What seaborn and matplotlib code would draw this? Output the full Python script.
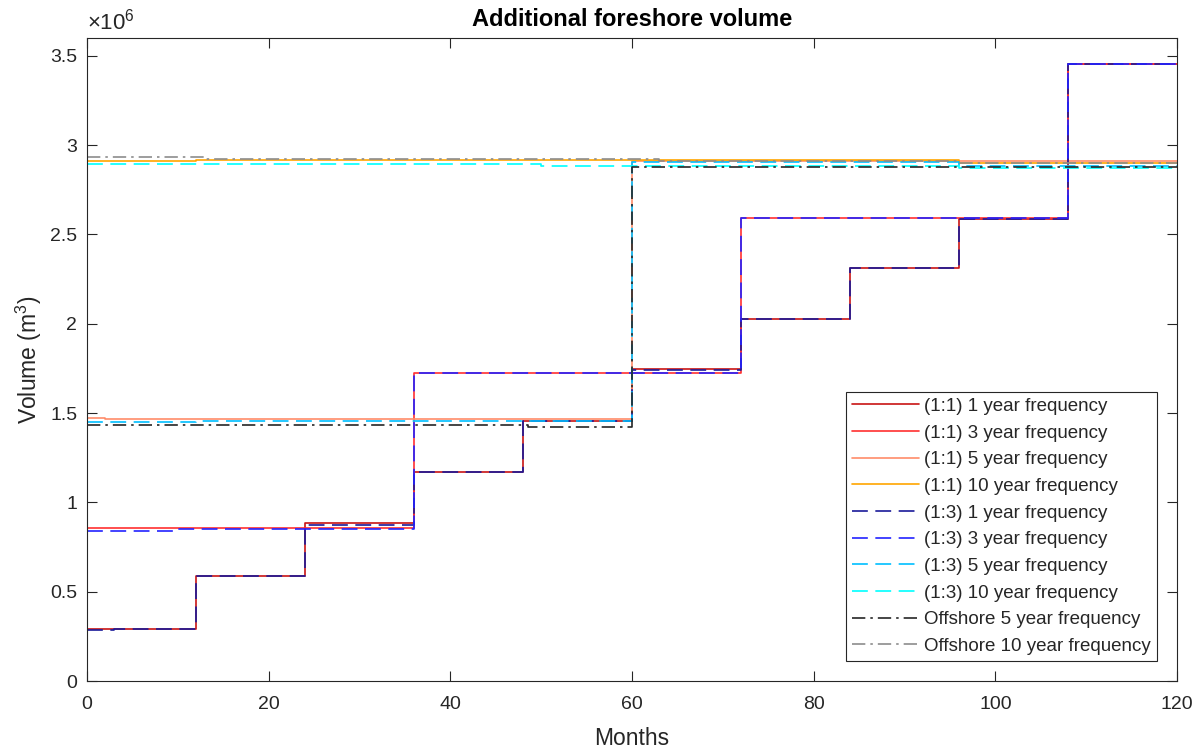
import numpy as np
import pandas as pd
import matplotlib
matplotlib.use("Agg")
import matplotlib.pyplot as plt
import seaborn as sns
from matplotlib.ticker import FuncFormatter, MultipleLocator

sns.set_theme(style="white")
plt.rcParams['font.family'] = ['Liberation Sans', 'DejaVu Sans']
plt.rcParams['mathtext.fontset'] = 'custom'
plt.rcParams['mathtext.rm'] = 'Liberation Sans'

# ---- data (volume in millions of m^3, step breakpoints in months) ----
s11_1_x = [0, 12, 24, 36, 48, 60, 72, 84, 96, 108, 120]
s11_1_y = [0.293, 0.590, 0.886, 1.172, 1.458, 1.746, 2.027, 2.313, 2.588, 3.455, 3.455]
s11_3_x = [0, 36, 72, 108, 120]
s11_3_y = [0.857, 1.723, 2.591, 3.455, 3.455]
s11_5_x = [0, 2, 60, 120]
s11_5_y = [1.472, 1.465, 2.912, 2.912]
s11_10_x = [0, 12, 96, 120]
s11_10_y = [2.912, 2.918, 2.902, 2.902]
s13_1_x = [0, 3, 12, 24, 36, 48, 60, 72, 84, 96, 108, 120]
s13_1_y = [0.285, 0.293, 0.590, 0.875, 1.172, 1.457, 1.743, 2.027, 2.313, 2.587, 3.455, 3.455]
s13_3_x = [0, 10, 36, 72, 108, 120]
s13_3_y = [0.838, 0.851, 1.723, 2.591, 3.455, 3.455]
s13_5_x = [0, 12, 60, 96, 120]
s13_5_y = [1.450, 1.457, 2.904, 2.885, 2.885]
s13_10_x = [0, 50, 96, 120]
s13_10_y = [2.894, 2.885, 2.872, 2.872]
off5_x = [0, 48.5, 60, 96, 120]
off5_y = [1.432, 1.420, 2.880, 2.875, 2.875]
off10_x = [0, 13, 63, 96, 120]
off10_y = [2.936, 2.925, 2.912, 2.900, 2.900]

labels = ["(1:1) 1 year frequency", "(1:1) 3 year frequency", "(1:1) 5 year frequency",
          "(1:1) 10 year frequency", "(1:3) 1 year frequency", "(1:3) 3 year frequency",
          "(1:3) 5 year frequency", "(1:3) 10 year frequency",
          "Offshore 5 year frequency", "Offshore 10 year frequency"]
series = [(s11_1_x, s11_1_y), (s11_3_x, s11_3_y), (s11_5_x, s11_5_y), (s11_10_x, s11_10_y),
          (s13_1_x, s13_1_y), (s13_3_x, s13_3_y), (s13_5_x, s13_5_y), (s13_10_x, s13_10_y),
          (off5_x, off5_y), (off10_x, off10_y)]

colors = ['#C81414', '#FF3030', '#FF8C69', '#FFA500',
          '#1A1A99', '#2222FF', '#00BFFF', '#00FFFF',
          '#262626', '#8C8C8C']
dash = (0, (9.5, 4.5))
dashdot = (0, (8, 3, 1.5, 3))
styles = ['-', '-', '-', '-', dash, dash, dash, dash, dashdot, dashdot]

fig = plt.figure(figsize=(12.01, 7.48), dpi=100)
ax = fig.add_axes([87/1201, 1 - 681/748, 1090/1201, 643/748])

for (xs, ys), lab, c, ls in zip(series, labels, colors, styles):
    df = pd.DataFrame({"Months": xs, "Volume": np.array(ys) * 1e6})
    sns.lineplot(data=df, x="Months", y="Volume", ax=ax, color=c, linestyle=ls,
                 linewidth=1.2, drawstyle='steps-post', label=lab, sort=False,
                 estimator=None)

ax.set_xlim(0, 120)
ax.set_ylim(0, 3.6e6)
ax.xaxis.set_major_locator(MultipleLocator(20))
ax.yaxis.set_major_locator(MultipleLocator(0.5e6))
ax.yaxis.set_major_formatter(FuncFormatter(lambda v, p: f"{v/1e6:g}"))

txtc = '#262626'
for sp in ax.spines.values():
    sp.set_visible(True)
    sp.set_color(txtc)
    sp.set_linewidth(0.8)
ax.tick_params(direction='in', length=7.5, width=0.8, colors=txtc, labelsize=14,
               top=True, right=True, bottom=True, left=True)
ax.tick_params(axis='x', pad=11)
ax.tick_params(axis='y', pad=7)

ax.set_xlabel("Months", fontsize=16.5, color=txtc)
ax.set_ylabel(r"Volume (m$^{\mathregular{3}}$)", fontsize=16.5, color=txtc)
ax.xaxis.set_label_coords(0.5, -0.071)
ax.yaxis.set_label_coords(-0.039, 0.5)
ax.set_title("Additional foreshore volume", fontsize=17, fontweight='bold',
             color='black', pad=9)
ax.text(0.0, 1.006, r"$\times\mathregular{10^{6}}$", transform=ax.transAxes,
        fontsize=16, color=txtc, ha='left', va='bottom')

leg = ax.legend(loc='lower right', bbox_to_anchor=(0.9817, 0.0311), borderaxespad=0,
                fontsize=13.5, frameon=True, fancybox=False, framealpha=1,
                edgecolor=txtc, handlelength=3.6, handletextpad=0.27,
                labelspacing=0.51, borderpad=0.32)
leg.get_frame().set_linewidth(0.8)
for t in leg.get_texts():
    t.set_color(txtc)

fig.savefig("out.png", dpi=100)
